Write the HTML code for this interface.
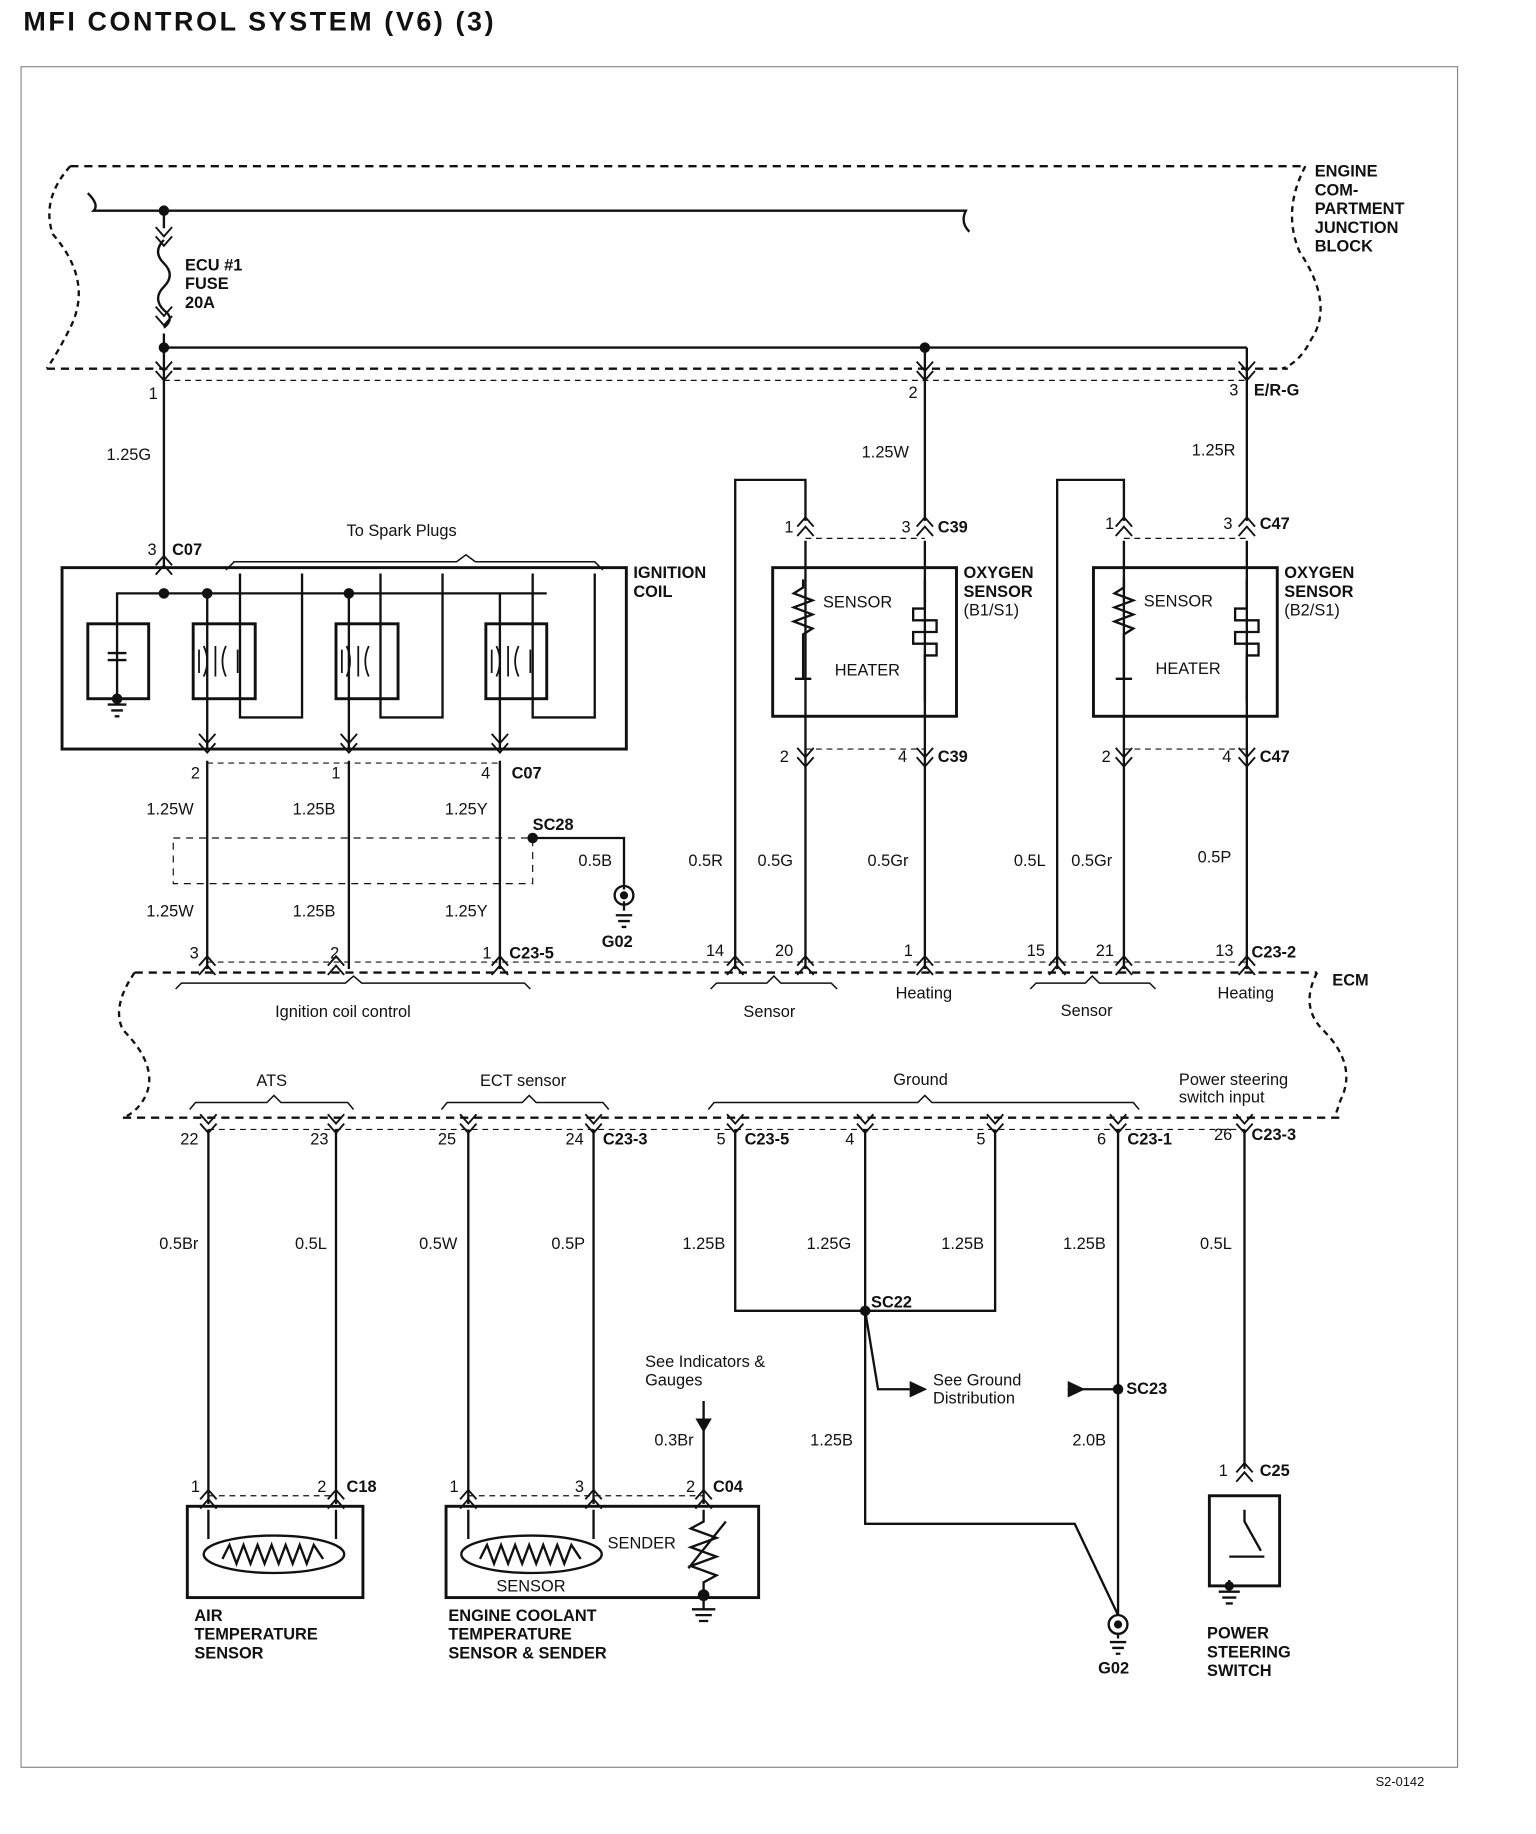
<!DOCTYPE html>
<html><head><meta charset="utf-8"><style>
html,body{margin:0;padding:0;background:#fff;}
svg{display:block}
text{font-family:"Liberation Sans",sans-serif;fill:#111;}
.b{font-weight:bold;}
</style></head><body>
<svg width="1536" height="1834" viewBox="0 0 1312 1567" preserveAspectRatio="none" xmlns="http://www.w3.org/2000/svg">
<defs>
<g id="dn"><path d="M-7,-6 L0,2 L7,-6 M-7,2 L0,10 L7,2" fill="none" stroke="#111" stroke-width="1.6"/></g>
<g id="up"><path d="M-7,6 L0,-2 L7,6 M-7,-2 L0,-10 L7,-2" fill="none" stroke="#111" stroke-width="1.6"/></g>
</defs>
<rect width="1312" height="1567" fill="#fff"/>
<text x="20" y="26" font-size="23" class="b" letter-spacing="2.2">MFI CONTROL SYSTEM (V6) (3)</text>
<rect x="18" y="57" width="1227" height="1453" fill="none" stroke="#888" stroke-width="1"/>

<g fill="none" stroke="#111" stroke-width="2">
<path d="M60,142 L1115,142" stroke-dasharray="7,5"/>
<path d="M40,315 L1100,315" stroke-dasharray="7,5"/>
<path d="M60,142 Q35,170 45,200 Q80,240 60,280 Q50,300 40,315" stroke-dasharray="5,4"/>
<path d="M1115,142 Q1095,180 1110,215 Q1140,260 1120,290 Q1110,310 1095,315" stroke-dasharray="5,4"/>
<path d="M140,325 L1065,325" stroke-dasharray="5,4" stroke-width="1"/>
<path d="M75,165 Q85,175 80,180 L825,180 Q820,190 828,198"/>
<path d="M140,180 L140,195 M140,285 L140,297 L1065,297"/>
<path d="M140,205 Q130,215 140,225 Q150,235 140,245 Q130,255 140,265 Q150,272 140,280"/>
<path d="M140,297 L140,485"/>
<path d="M790,297 L790,445"/>
<path d="M1065,297 L1065,445"/>
<rect x="53" y="485" width="482" height="155" stroke-width="2.5"/>
<rect x="75" y="533" width="52" height="64" stroke-width="2.5"/>
<rect x="165" y="533" width="53" height="64" stroke-width="2.5"/>
<rect x="287" y="533" width="53" height="64" stroke-width="2.5"/>
<rect x="415" y="533" width="52" height="64" stroke-width="2.5"/>
<path d="M100,575 L100,507 L467,507 M100,548 L100,558 M100,565 L100,595"/>
<path d="M92,558 L108,558 M92,564 L108,564 M92,602 L108,602 M95,607 L105,607 M98,612 L102,612"/>
<path d="M177,507 L177,640 M298,507 L298,640 M427,507 L427,640"/>
<path d="M205,490 L205,613 L258,613 L258,490 M325,490 L325,613 L378,613 L378,490 M455,490 L455,613 L508,613 L508,490"/>
<path d="M193,487 L200,480 L390,480 L398,474 L406,480 L508,480 L515,487" stroke-width="1.3"/>
<path d="M177,650 L177,828 M298,650 L298,828 M427,650 L427,828"/>
<path d="M177,652 L427,652" stroke-dasharray="5,4" stroke-width="1"/>
<rect x="148" y="716" width="307" height="39" stroke-dasharray="6,5" stroke-width="1"/>
<path d="M455,716 L533,716 L533,760"/>
<path d="M628,828 L628,410 L688,410 L688,445"/>
<path d="M688,462 L688,828 M790,462 L790,828"/>
<rect x="660" y="485" width="157" height="127" stroke-width="2.5"/>
<path d="M688,460 L790,460 M688,640 L790,640" stroke-dasharray="5,4" stroke-width="1"/>
<path d="M686,495 L686,502 L678,507 L694,513 L678,519 L694,525 L678,531 L694,537 L686,542 L686,580 M679,580 L693,580 M790,495 L790,520 L780,520 L780,530 L800,530 L800,540 L780,540 L780,550 L800,550 L800,560 L790,560 L790,600"/>
<path d="M903,828 L903,410 L960,410 L960,445"/>
<path d="M960,462 L960,828 M1065,462 L1065,828"/>
<rect x="934" y="485" width="157" height="127" stroke-width="2.5"/>
<path d="M960,460 L1065,460 M960,640 L1065,640" stroke-dasharray="5,4" stroke-width="1"/>
<path d="M960,495 L960,502 L952,507 L968,513 L952,519 L968,525 L952,531 L968,537 L960,542 L960,580 M953,580 L967,580 M1065,495 L1065,520 L1055,520 L1055,530 L1075,530 L1075,540 L1055,540 L1055,550 L1075,550 L1075,560 L1065,560 L1065,600"/>
<path d="M115,831 L1125,831" stroke-dasharray="7,5"/>
<path d="M105,955 L1145,955" stroke-dasharray="7,5"/>
<path d="M115,831 Q95,860 105,880 Q135,910 125,935 Q118,950 105,955" stroke-dasharray="5,4"/>
<path d="M1125,831 Q1110,860 1130,880 Q1160,910 1145,940 L1140,955" stroke-dasharray="5,4"/>
<path d="M177,822 L1065,822 M178,965 L1063,965" stroke-dasharray="5,4" stroke-width="1"/>
<g stroke-width="1.3">
<path d="M150,845 L155,840 L295,840 L302,834 L309,840 L448,840 L453,845"/>
<path d="M607,845 L612,840 L655,840 L661,834 L667,840 L710,840 L715,845"/>
<path d="M880,845 L885,840 L927,840 L933,834 L939,840 L982,840 L987,845"/>
<path d="M162,948 L167,942 L228,942 L234,936 L240,942 L297,942 L302,948"/>
<path d="M377,948 L382,942 L446,942 L452,936 L458,942 L515,942 L520,948"/>
<path d="M605,948 L610,942 L784,942 L790,936 L796,942 L968,942 L973,948"/>
</g>
<path d="M178,965 L178,1285 M287,965 L287,1285 M400,965 L400,1285 M507,965 L507,1285"/>
<path d="M628,965 L628,1120 L850,1120 L850,965 M739,965 L739,1302 L918,1302 L955,1380 M955,965 L955,1380 M1063,965 L1063,1255"/>
<path d="M739,1120 L750,1187 L777,1187 M912,1187 L955,1187 M601,1197 L601,1285"/>
<path d="M178,1278 L287,1278 M400,1278 L601,1278" stroke-dasharray="5,4" stroke-width="1"/>
<rect x="160" y="1287" width="150" height="78" stroke-width="2.5"/>
<rect x="381" y="1287" width="267" height="78" stroke-width="2.5"/>
<rect x="1033" y="1278" width="60" height="77" stroke-width="2.5"/>
<ellipse cx="234" cy="1328" rx="60" ry="16"/>
<ellipse cx="454" cy="1328" rx="60" ry="16"/>
<path d="M190,1332 L196,1320 L202,1336 L208,1320 L214,1336 L220,1320 L226,1336 L232,1320 L238,1336 L244,1320 L250,1336 L256,1320 L262,1336 L268,1320 L276,1332"/>
<path d="M410,1332 L416,1320 L422,1336 L428,1320 L434,1336 L440,1320 L446,1336 L452,1320 L458,1336 L464,1320 L470,1336 L476,1320 L482,1336 L488,1320 L496,1332"/>
<path d="M178,1290 L178,1315 M287,1290 L287,1315 M400,1290 L400,1315 M507,1290 L507,1315"/>
<path d="M601,1290 L601,1300 L590,1306 L612,1314 L590,1322 L612,1330 L590,1338 L612,1346 L601,1352 L601,1375 M588,1340 L620,1300"/>
<path d="M591,1375 L611,1375 M594,1380 L608,1380 M597,1385 L605,1385"/>
<path d="M1063,1290 L1063,1300 L1077,1325 M1050,1330 L1080,1330 M1050,1350 L1050,1360"/>
<path d="M1041,1360 L1059,1360 M1044,1365 L1056,1365 M1047,1370 L1053,1370"/>
<path d="M533,770 L533,778 M526,782 L540,782 M528,787 L538,787 M531,792 L535,792"/>
<path d="M955,1395 L955,1400 M948,1403 L962,1403 M950,1408 L960,1408 M953,1413 L957,1413"/>
<circle cx="533" cy="765" r="8"/>
<circle cx="955" cy="1388" r="8"/>
</g>
<g fill="#111">
<circle cx="140" cy="180" r="4.5"/><circle cx="140" cy="297" r="4.5"/><circle cx="790" cy="297" r="4.5"/>
<circle cx="140" cy="507" r="4.5"/><circle cx="177" cy="507" r="4.5"/><circle cx="298" cy="507" r="4.5"/>
<circle cx="455" cy="716" r="4.5"/><circle cx="739" cy="1120" r="4.5"/><circle cx="955" cy="1187" r="4.5"/>
<circle cx="533" cy="765" r="3.5"/><circle cx="955" cy="1388" r="3.5"/><circle cx="100" cy="597" r="4.5"/>
<circle cx="601" cy="1363" r="5"/><circle cx="1050" cy="1355" r="4"/>
<path d="M777,1180 L777,1194 L792,1187 Z"/><path d="M912,1180 L912,1194 L927,1187 Z"/>
<path d="M594,1212 L608,1212 L601,1224 Z"/>
</g>
<use href="#dn" x="140" y="315"/><use href="#dn" x="790" y="315"/><use href="#dn" x="1065" y="315"/>
<use href="#dn" x="140" y="200"/><use href="#dn" x="140" y="268"/>
<use href="#up" x="140" y="485"/><use href="#up" x="688" y="452"/><use href="#up" x="790" y="452"/>
<use href="#up" x="960" y="452"/><use href="#up" x="1065" y="452"/>
<use href="#dn" x="688" y="645"/><use href="#dn" x="790" y="645"/><use href="#dn" x="960" y="645"/><use href="#dn" x="1065" y="645"/>
<use href="#dn" x="177" y="633"/><use href="#dn" x="298" y="633"/><use href="#dn" x="427" y="633"/>
<use href="#up" x="177" y="827"/><use href="#up" x="287" y="827"/><use href="#up" x="427" y="827"/>
<use href="#up" x="628" y="827"/><use href="#up" x="688" y="827"/><use href="#up" x="790" y="827"/>
<use href="#up" x="903" y="827"/><use href="#up" x="960" y="827"/><use href="#up" x="1065" y="827"/>
<use href="#dn" x="178" y="958"/><use href="#dn" x="287" y="958"/><use href="#dn" x="400" y="958"/><use href="#dn" x="507" y="958"/>
<use href="#dn" x="628" y="958"/><use href="#dn" x="739" y="958"/><use href="#dn" x="850" y="958"/><use href="#dn" x="955" y="958"/><use href="#dn" x="1063" y="958"/>
<use href="#up" x="178" y="1283"/><use href="#up" x="287" y="1283"/><use href="#up" x="400" y="1283"/><use href="#up" x="507" y="1283"/><use href="#up" x="601" y="1283"/>
<use href="#up" x="1063" y="1260"/>

<g font-size="14" class="b">
<text x="1123" y="151">ENGINE</text><text x="1123" y="167">COM-</text><text x="1123" y="183">PARTMENT</text><text x="1123" y="199">JUNCTION</text><text x="1123" y="215">BLOCK</text>
<text x="158" y="231">ECU #1</text><text x="158" y="247">FUSE</text><text x="158" y="263">20A</text>
<text x="541" y="494">IGNITION</text><text x="541" y="510">COIL</text>
<text x="823" y="494">OXYGEN</text><text x="823" y="510">SENSOR</text>
<text x="1097" y="494">OXYGEN</text><text x="1097" y="510">SENSOR</text>
<text x="166" y="1385">AIR</text><text x="166" y="1401">TEMPERATURE</text><text x="166" y="1417">SENSOR</text>
<text x="383" y="1385">ENGINE COOLANT</text><text x="383" y="1401">TEMPERATURE</text><text x="383" y="1417">SENSOR &amp; SENDER</text>
<text x="1031" y="1400">POWER</text><text x="1031" y="1416">STEERING</text><text x="1031" y="1432">SWITCH</text>
<text x="1138" y="842">ECM</text>
<text x="514" y="809">G02</text><text x="938" y="1430">G02</text>
<text x="1071" y="338">E/R-G</text>
<text x="147" y="474">C07</text><text x="437" y="665">C07</text>
<text x="455" y="709">SC28</text>
<text x="801" y="455">C39</text><text x="801" y="651">C39</text>
<text x="1076" y="452">C47</text><text x="1076" y="651">C47</text>
<text x="435" y="819">C23-5</text><text x="1069" y="818">C23-2</text>
<text x="515" y="978">C23-3</text><text x="636" y="978">C23-5</text><text x="963" y="978">C23-1</text><text x="1069" y="974">C23-3</text>
<text x="744" y="1117">SC22</text><text x="962" y="1191">SC23</text>
<text x="296" y="1275">C18</text><text x="609" y="1275">C04</text><text x="1076" y="1261">C25</text>
</g>
<g font-size="14">
<text x="823" y="526">(B1/S1)</text><text x="1097" y="526">(B2/S1)</text>
<text x="703" y="519">SENSOR</text><text x="713" y="577">HEATER</text>
<text x="977" y="518">SENSOR</text><text x="987" y="576">HEATER</text>
<text x="519" y="1323">SENDER</text><text x="424" y="1360">SENSOR</text>
<text x="296" y="458">To Spark Plugs</text>
<text x="235" y="869">Ignition coil control</text>
<text x="635" y="869">Sensor</text><text x="765" y="853">Heating</text>
<text x="906" y="868">Sensor</text><text x="1040" y="853">Heating</text>
<text x="219" y="928">ATS</text><text x="410" y="928">ECT sensor</text><text x="763" y="927">Ground</text>
<text x="1007" y="927">Power steering</text><text x="1007" y="942">switch input</text>
<text x="551" y="1168">See Indicators &amp;</text><text x="551" y="1184">Gauges</text>
<text x="797" y="1184">See Ground</text><text x="797" y="1199">Distribution</text>
<text x="91" y="393">1.25G</text><text x="736" y="391">1.25W</text><text x="1018" y="389">1.25R</text>
<text x="125" y="696">1.25W</text><text x="250" y="696">1.25B</text><text x="380" y="696">1.25Y</text>
<text x="125" y="783">1.25W</text><text x="250" y="783">1.25B</text><text x="380" y="783">1.25Y</text>
<text x="494" y="740">0.5B</text>
<text x="588" y="740">0.5R</text><text x="647" y="740">0.5G</text><text x="741" y="740">0.5Gr</text>
<text x="866" y="740">0.5L</text><text x="915" y="740">0.5Gr</text><text x="1023" y="737">0.5P</text>
<text x="136" y="1067">0.5Br</text><text x="252" y="1067">0.5L</text><text x="358" y="1067">0.5W</text><text x="471" y="1067">0.5P</text>
<text x="583" y="1067">1.25B</text><text x="689" y="1067">1.25G</text><text x="804" y="1067">1.25B</text><text x="908" y="1067">1.25B</text><text x="1025" y="1067">0.5L</text>
<text x="559" y="1235">0.3Br</text><text x="692" y="1235">1.25B</text><text x="916" y="1235">2.0B</text>
<text x="127" y="341">1</text><text x="776" y="340">2</text><text x="1050" y="338">3</text>
<text x="126" y="474">3</text><text x="670" y="455">1</text><text x="770" y="455">3</text><text x="944" y="452">1</text><text x="1045" y="452">3</text>
<text x="163" y="665">2</text><text x="283" y="665">1</text><text x="411" y="665">4</text>
<text x="666" y="651">2</text><text x="767" y="651">4</text><text x="941" y="651">2</text><text x="1044" y="651">4</text>
<text x="162" y="819">3</text><text x="282" y="819">2</text><text x="412" y="819">1</text>
<text x="603" y="817">14</text><text x="662" y="817">20</text><text x="772" y="817">1</text>
<text x="877" y="817">15</text><text x="936" y="817">21</text><text x="1038" y="817">13</text>
<text x="154" y="978">22</text><text x="265" y="978">23</text><text x="374" y="978">25</text><text x="483" y="978">24</text>
<text x="612" y="978">5</text><text x="722" y="978">4</text><text x="834" y="978">5</text><text x="937" y="978">6</text><text x="1037" y="974">26</text>
<text x="163" y="1275">1</text><text x="271" y="1275">2</text><text x="384" y="1275">1</text><text x="491" y="1275">3</text><text x="586" y="1275">2</text><text x="1041" y="1261">1</text>
</g>
<g fill="none" stroke="#111" stroke-width="1.5">
<path d="M170,555 L170,575 M174,552 Q180,565 174,578 M184,552 L184,578 M193,552 Q187,565 193,578 M203,555 L203,575"/>
<path d="M292,555 L292,575 M296,552 Q302,565 296,578 M306,552 L306,578 M315,552 Q309,565 315,578 M325,555 L325,575"/>
<path d="M420,555 L420,575 M424,552 Q430,565 424,578 M434,552 L434,578 M443,552 Q437,565 443,578 M453,555 L453,575"/>
</g>
<text x="1175" y="1526" font-size="11" fill="#aaa">S2-0142</text>
</svg>
</body></html>
